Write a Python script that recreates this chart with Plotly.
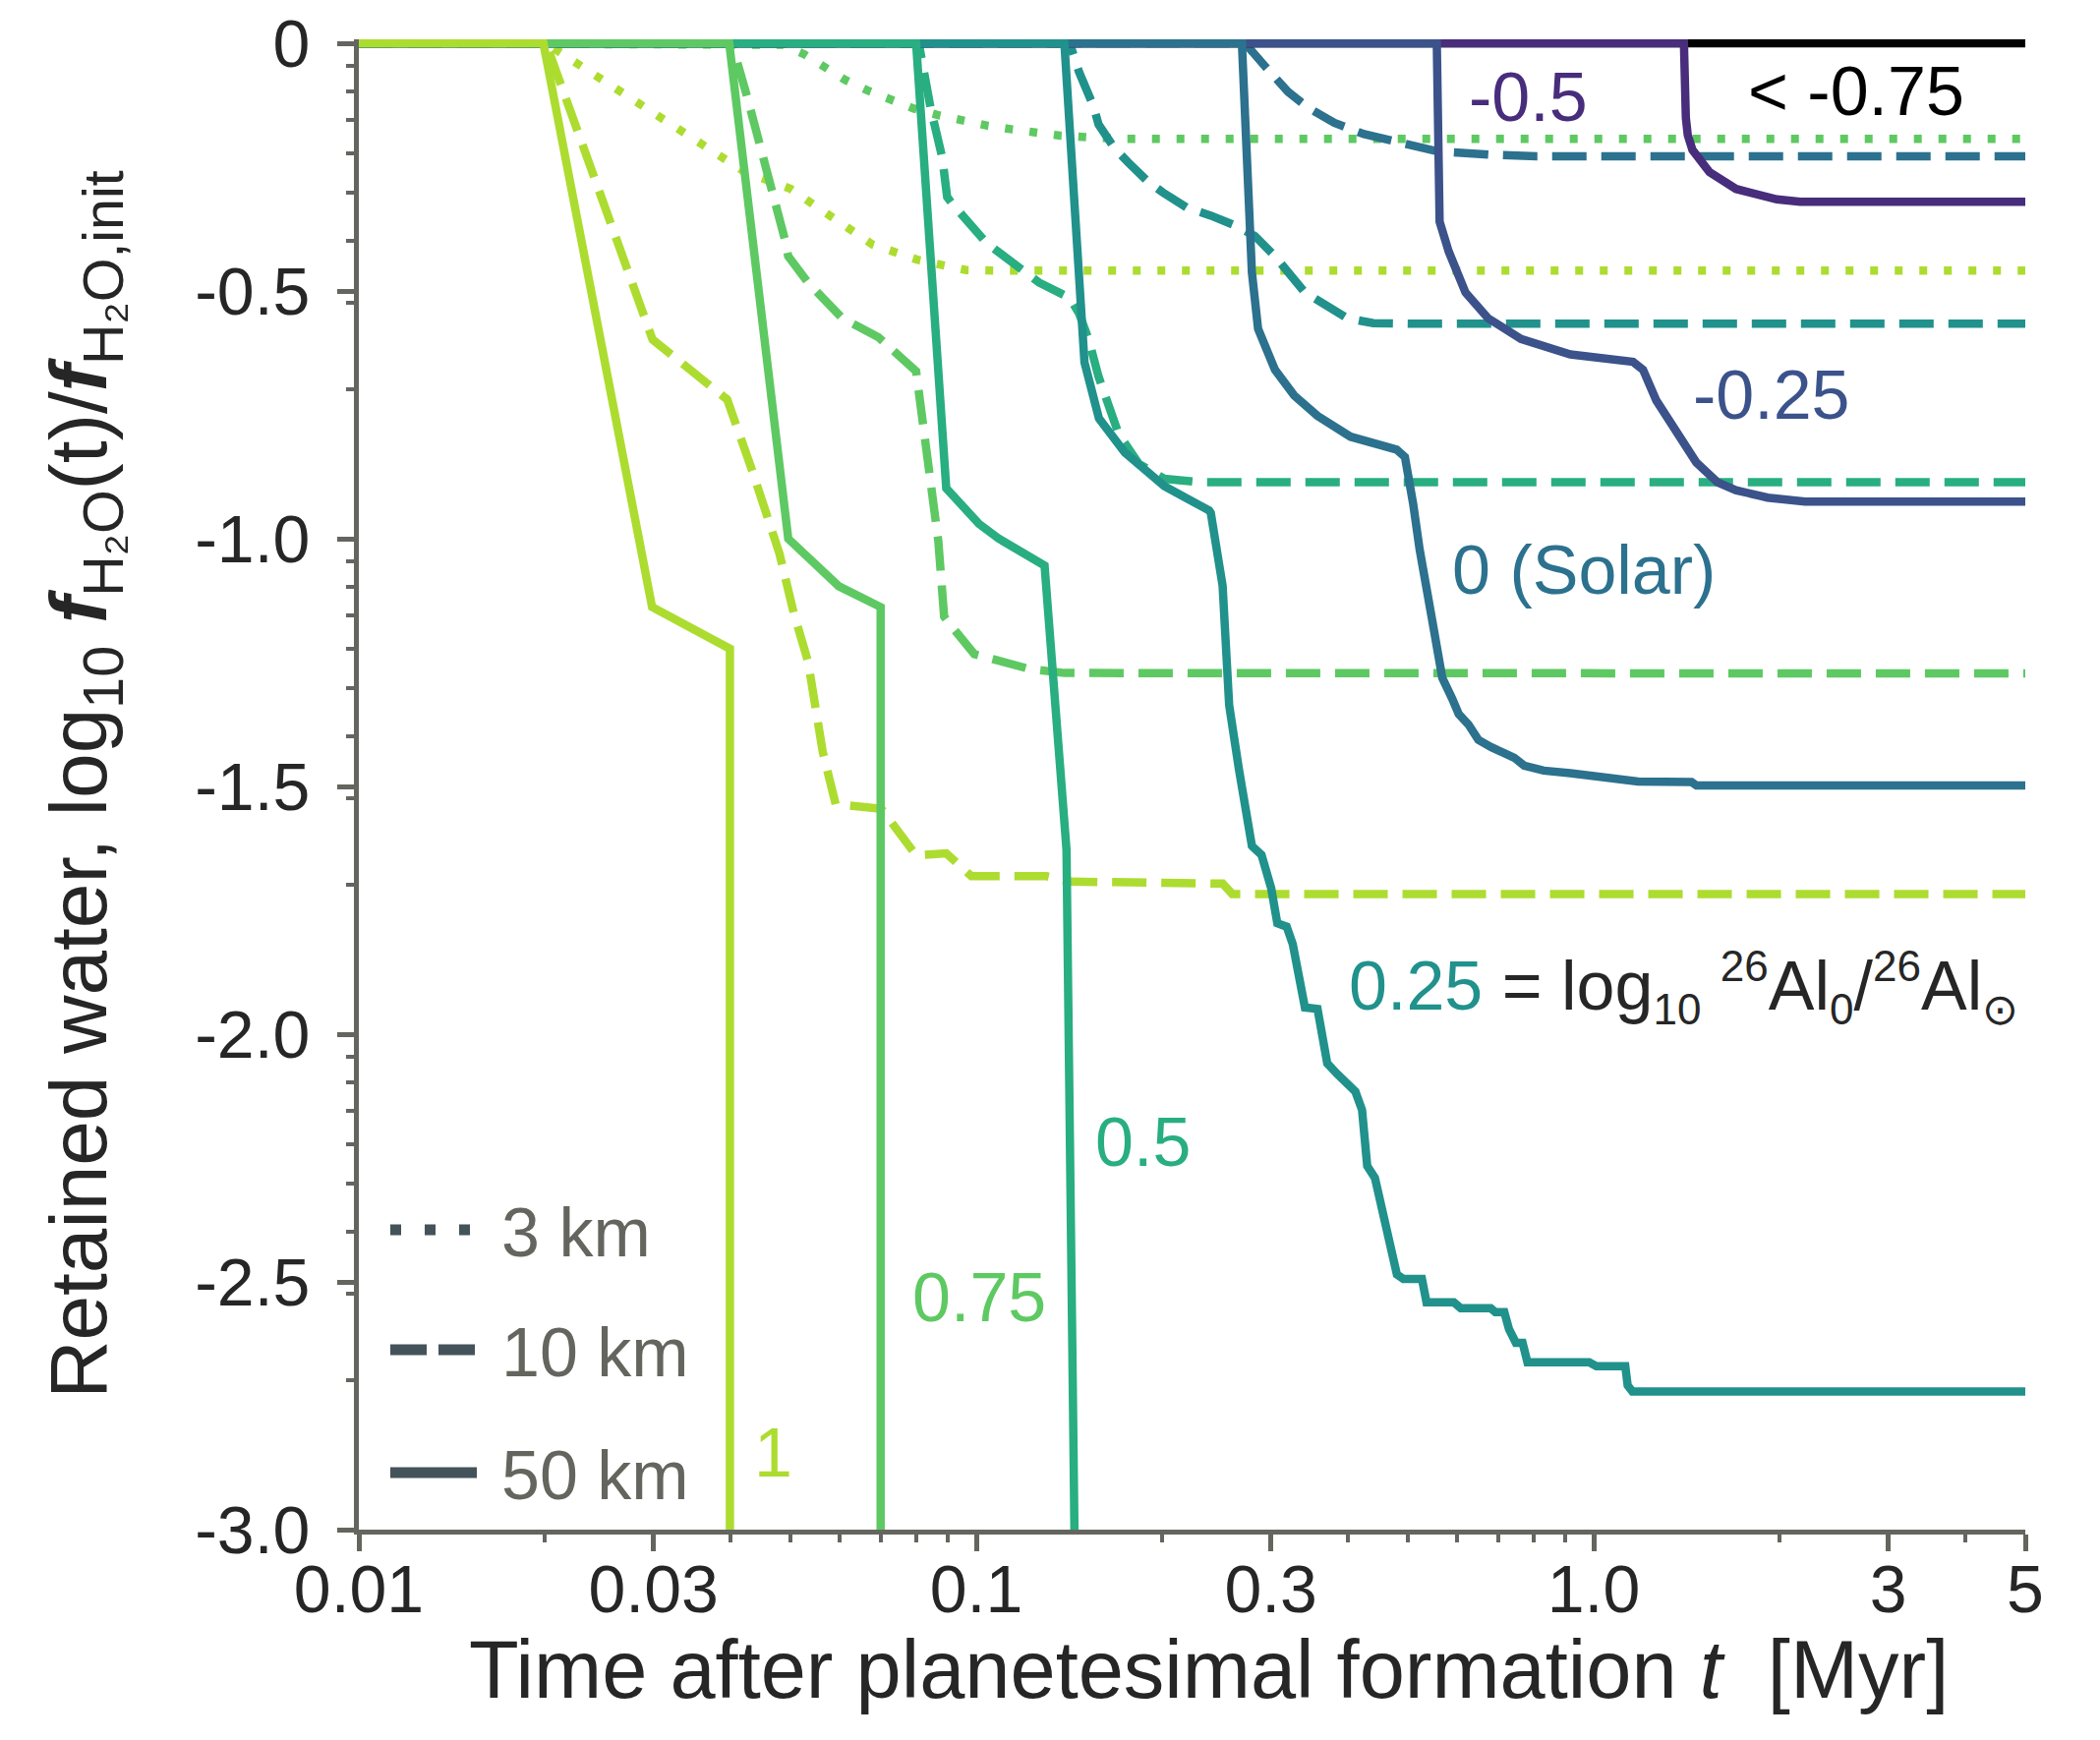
import numpy as np
import plotly.graph_objects as go

# ---------------- data (time in Myr, retained water log10 fraction) ----------------
# log10 26Al0/26Al_sun = 1
t_a100_50 = [0.01, 0.0199, 0.02985, 0.0399, 0.0399]
v_a100_50 = [0, 0, -1.138, -1.222, -3.0]
t_a100_10 = [0.01, 0.0201, 0.0299, 0.0395, 0.0434, 0.048, 0.0506, 0.0534, 0.0564, 0.0592,
             0.0702, 0.0799, 0.0894, 0.0982, 0.1299, 0.1417, 0.2506, 0.2598, 5]
v_a100_10 = [0, 0, -0.598, -0.719, -0.864, -1.03, -1.149, -1.248, -1.43, -1.536,
             -1.545, -1.639, -1.635, -1.681, -1.681, -1.692, -1.696, -1.717, -1.717]
t_a100_3 = [0.01, 0.0201, 0.02268, 0.02642, 0.0309, 0.03595, 0.04205, 0.050, 0.05834,
            0.06788, 0.0805, 0.0963, 0.11, 5]
v_a100_3 = [0, 0, -0.0425, -0.0954, -0.1516, -0.2065, -0.2587, -0.2938, -0.348,
            -0.406, -0.4373, -0.4577, -0.459, -0.459]

# 0.75
t_a075_50 = [0.01, 0.0398, 0.0496, 0.0599, 0.0700, 0.0700]
v_a075_50 = [0, 0, -1.0, -1.096, -1.138, -3.0]
t_a075_10 = [0.01, 0.0402, 0.04256, 0.0469, 0.04898, 0.04958, 0.0533, 0.06067, 0.0694,
             0.0799, 0.0868, 0.0887, 0.0900, 0.0993, 0.122, 0.139, 5]
v_a075_10 = [0, 0, -0.1086, -0.30, -0.396, -0.4294, -0.482, -0.555, -0.593,
             -0.662, -1.005, -1.157, -1.168, -1.233, -1.263, -1.271, -1.272]
t_a075_3 = [0.01, 0.046, 0.0487, 0.05271, 0.05672, 0.06138, 0.06673, 0.07269, 0.07918,
            0.08668, 0.09476, 0.1039, 0.1138, 0.136, 0.17, 5]
v_a075_3 = [0, 0, -0.003, -0.0226, -0.049, -0.0742, -0.0954, -0.1152, -0.1317,
            -0.145, -0.157, -0.166, -0.1734, -0.186, -0.193, -0.193]

# 0.5
t_a050_50 = [0.01, 0.0799, 0.0894, 0.101, 0.1088, 0.1266, 0.129, 0.140, 0.1417, 0.1442]
v_a050_50 = [0, 0, -0.898, -0.97, -1.0, -1.046, -1.054, -1.628, -2.195, -3.0]
t_a050_10 = [0.01, 0.0807, 0.08437, 0.0881, 0.0897, 0.0914, 0.1039, 0.1188, 0.1264, 0.1417,
             0.1467, 0.152, 0.1578, 0.170, 0.1834, 0.2016, 0.23, 5]
v_a050_10 = [0, 0, -0.1317, -0.231, -0.310, -0.3236, -0.403, -0.4558, -0.483, -0.514,
             -0.545, -0.597, -0.673, -0.788, -0.849, -0.879, -0.886, -0.886]

# 0.25
t_a025_50 = [0.01, 0.1389, 0.1497, 0.158, 0.174, 0.2016, 0.2383, 0.2398, 0.2506, 0.2568,
             0.2662, 0.2795, 0.2897, 0.3003, 0.3073, 0.3182, 0.3255, 0.3406, 0.357, 0.3702,
             0.384, 0.3987, 0.4112, 0.4215, 0.4297, 0.4422, 0.4547, 0.46, 0.4753, 0.480,
             0.4918, 0.527, 0.536, 0.5935, 0.609, 0.681, 0.693, 0.7165, 0.729, 0.748,
             0.767, 0.781, 0.983, 1.01, 1.125, 1.135, 1.155, 5]
v_a025_50 = [0, 0, -0.644, -0.757, -0.826, -0.894, -0.943, -0.948, -1.095, -1.336,
             -1.464, -1.62, -1.638, -1.705, -1.776, -1.783, -1.818, -1.946, -1.949, -2.059,
             -2.08, -2.102, -2.116, -2.153, -2.266, -2.29, -2.36, -2.37, -2.454, -2.485,
             -2.494, -2.494, -2.541, -2.541, -2.553, -2.553, -2.561, -2.561, -2.595, -2.623,
             -2.623, -2.662, -2.662, -2.670, -2.670, -2.709, -2.721, -2.721]
t_a025_10 = [0.01, 0.1417, 0.1467, 0.1547, 0.1578, 0.167, 0.1764, 0.1896, 0.2005, 0.2195,
             0.24, 0.2628, 0.2827, 0.3046, 0.3406, 0.3667, 0.3987, 0.4397, 0.50, 5]
v_a025_10 = [0, 0, -0.058, -0.126, -0.164, -0.21, -0.241, -0.279, -0.301, -0.332,
             -0.348, -0.368, -0.389, -0.43, -0.503, -0.529, -0.555, -0.565, -0.566, -0.566]

# 0 (Solar)
t_a000_50 = [0.01, 0.2693, 0.2795, 0.286, 0.3046, 0.3273, 0.357, 0.4036, 0.4795, 0.4946,
             0.5099, 0.5225, 0.548, 0.5686, 0.59, 0.6045, 0.6269, 0.6504, 0.6829, 0.7437,
             0.7716, 0.8301, 0.9165, 1.124, 1.18, 1.44, 1.467, 5]
v_a000_50 = [0, 0, -0.462, -0.576, -0.659, -0.711, -0.752, -0.794, -0.82, -0.835,
             -0.929, -1.022, -1.167, -1.281, -1.323, -1.354, -1.375, -1.406, -1.421, -1.442,
             -1.458, -1.468, -1.473, -1.484, -1.49, -1.491, -1.498, -1.498]
t_a000_10 = [0.01, 0.2725, 0.2936, 0.3198, 0.3445, 0.3801, 0.4248, 0.4743, 0.5571, 0.6829, 0.809, 5]
v_a000_10 = [0, 0, -0.0465, -0.098, -0.1296, -0.1607, -0.1835, -0.1992, -0.2179, -0.225, -0.228, -0.228]

# -0.25
t_m025_50 = [0.01, 0.557, 0.5629, 0.5822, 0.6199, 0.6745, 0.7627, 0.9165, 1.158, 1.202,
             1.263, 1.361, 1.466, 1.587, 1.699, 1.913, 2.2, 5]
v_m025_50 = [0, 0, -0.36, -0.42, -0.503, -0.555, -0.597, -0.628, -0.643, -0.659,
             -0.721, -0.783, -0.846, -0.886, -0.902, -0.917, -0.925, -0.925]

# -0.5
t_m050_50 = [0.01, 1.40, 1.41, 1.42, 1.445, 1.54, 1.70, 1.98, 2.16, 5]
v_m050_50 = [0, 0, -0.15, -0.185, -0.215, -0.26, -0.294, -0.315, -0.32, -0.32]

# < -0.75
t_low_50 = [0.01, 5]
v_low_50 = [0, 0]

# axis ticks
xtick_vals = [0.01, 0.03, 0.1, 0.3, 1, 3, 5]
xtick_text = ["0.01", "0.03", "0.1", "0.3", "1.0", "3", "5"]
xminor_vals = [0.02, 0.04, 0.05, 0.06, 0.07, 0.08, 0.09, 0.2, 0.4, 0.5, 0.6, 0.7, 0.8, 0.9, 2, 4]
ytick_vals = [0, -0.5, -1.0, -1.5, -2.0, -2.5, -3.0]
ytick_text = ["0", "-0.5", "-1.0", "-1.5", "-2.0", "-2.5", "-3.0"]
yminor_vals = [float(np.log10(k * 10.0 ** (-n))) for n in (1, 2, 3) for k in range(2, 10)]

# ---------------- styles ----------------
FONT = "Liberation Sans, Arial, Helvetica, sans-serif"
AXC = "#65655f"
TXT = "#262626"
LEGC = "#44535a"
C = {
    "1": "#addc30", "0.75": "#5ec962", "0.5": "#28ae80", "0.25": "#21918c",
    "0": "#2c718e", "-0.25": "#3b528b", "-0.5": "#472d7b", "low": "#000000",
}
LW = 8.5
DASH = {"50": "solid", "10": "35px,15px", "3": "8px,17px"}

series = [
    # dotted first (bottom), then dashed, then solids (1 on top)
    ("1", "3", t_a100_3, v_a100_3),
    ("0.75", "3", t_a075_3, v_a075_3),
    ("0", "10", t_a000_10, v_a000_10),
    ("0.25", "10", t_a025_10, v_a025_10),
    ("0.5", "10", t_a050_10, v_a050_10),
    ("0.75", "10", t_a075_10, v_a075_10),
    ("1", "10", t_a100_10, v_a100_10),
    ("low", "50", t_low_50, v_low_50),
    ("-0.5", "50", t_m050_50, v_m050_50),
    ("-0.25", "50", t_m025_50, v_m025_50),
    ("0", "50", t_a000_50, v_a000_50),
    ("0.25", "50", t_a025_50, v_a025_50),
    ("0.5", "50", t_a050_50, v_a050_50),
    ("0.75", "50", t_a075_50, v_a075_50),
    ("1", "50", t_a100_50, v_a100_50),
]

fig = go.Figure()
for al, size, t, v in series:
    fig.add_trace(go.Scatter(
        x=t, y=v, mode="lines", name=f"{al} / {size} km",
        line=dict(color=C[al], width=LW, dash=DASH[size]),
        showlegend=False, hoverinfo="skip",
    ))

# plot-area geometry (px) used for paper coordinates of labels
W, H = 2136, 1770
ML, MR, MT, MB = 365, 76, 40, 214
PW, PH = W - ML - MR, H - MT - MB


def px(X):
    return (X - ML) / PW


def py(Y):
    return (H - MB - Y) / PH


labels = [
    ("&lt; -0.75", 1888, 93, C["low"], "center"),
    ("-0.5", 1554, 99, C["-0.5"], "center"),
    ("-0.25", 1802, 402, C["-0.25"], "center"),
    ("0 (Solar)", 1611, 580, C["0"], "center"),
    ("0.5", 1162, 1162, C["0.5"], "center"),
    ("0.75", 996, 1320, C["0.75"], "center"),
    ("1", 786, 1478, C["1"], "center"),
]
annotations = []
for text, X, Y, col, anc in labels:
    annotations.append(dict(text=text, x=px(X), y=py(Y), xref="paper", yref="paper",
                            xanchor=anc, yanchor="middle", showarrow=False,
                            font=dict(family=FONT, size=70, color=col)))

SS = "<span style='font-size:44px'>{}</span>"
annotations.append(dict(
    text=(f"<span style='color:{C['0.25']}'>0.25</span> = log<sub>{SS.format('10')}</sub> "
          f"<sup>{SS.format('26')}</sup>Al<sub>{SS.format('0')}</sub>/"
          f"<sup>{SS.format('26')}</sup>Al<sub>{SS.format(chr(0x2299))}</sub>"),
    x=px(1370), y=py(1004), xref="paper", yref="paper", xanchor="left", yanchor="middle",
    showarrow=False, font=dict(family=FONT, size=70, color=TXT)))

# legend (line-style key)
legend_items = [("3 km", "11px,24px", 1251), ("10 km", "37px,12px", 1373), ("50 km", "solid", 1498)]
shapes = []
for text, dash, Y in legend_items:
    shapes.append(dict(type="line", xref="paper", yref="paper", x0=px(397), x1=px(485),
                       y0=py(Y), y1=py(Y), line=dict(color=LEGC, width=11, dash=dash)))
    annotations.append(dict(text=text, x=px(508), y=py(Y + 3), xref="paper", yref="paper",
                            xanchor="left", yanchor="middle", showarrow=False,
                            font=dict(family=FONT, size=70, color=AXC)))

# x-axis title (placed as a paper annotation so it can sit close to the tick labels)
annotations.append(dict(
    text="Time after planetesimal formation <i>t</i> \u00a0[Myr]",
    x=px(1229), y=py(1650), xref="paper", yref="paper", xanchor="center", yanchor="top",
    showarrow=False, font=dict(family=FONT, size=83, color=TXT)))

fig.update_layout(
    width=W, height=H,
    margin=dict(l=ML, r=MR, t=MT, b=MB, autoexpand=False),
    plot_bgcolor="white", paper_bgcolor="white",
    showlegend=False,
    font=dict(family=FONT, color=TXT),
    annotations=annotations, shapes=shapes,
)

fig.update_xaxes(
    type="log", range=[-2, float(np.log10(5))],
    tickmode="array", tickvals=xtick_vals, ticktext=xtick_text,
    ticks="outside", ticklen=17, tickwidth=5, tickcolor=AXC,
    showline=True, linewidth=5, linecolor=AXC, showgrid=False, zeroline=False,
    tickfont=dict(family=FONT, size=68, color=TXT),
    ticklabelstandoff=-20,
    minor=dict(tickmode="array", tickvals=xminor_vals, ticks="outside", ticklen=8,
               tickwidth=4, tickcolor=AXC, showgrid=False),
)
fig.update_yaxes(
    range=[-3, 0.008],
    tickmode="array", tickvals=ytick_vals, ticktext=ytick_text,
    ticks="outside", ticklen=17, tickwidth=5, tickcolor=AXC,
    showline=True, linewidth=5, linecolor=AXC, showgrid=False, zeroline=False,
    tickfont=dict(family=FONT, size=68, color=TXT),
    ticklabelstandoff=14,
    minor=dict(tickmode="array", tickvals=yminor_vals, ticks="outside", ticklen=8,
               tickwidth=4, tickcolor=AXC, showgrid=False),
    title=dict(text=("Retained water, log<sub>10</sub> <b><i>f</i></b><sub>H\u2082O</sub>(t)/"
                     "<b><i>f</i></b><sub>H\u2082O,init</sub>"),
               font=dict(family=FONT, size=82, color=TXT), standoff=64),
)

fig.write_html("out.html")
